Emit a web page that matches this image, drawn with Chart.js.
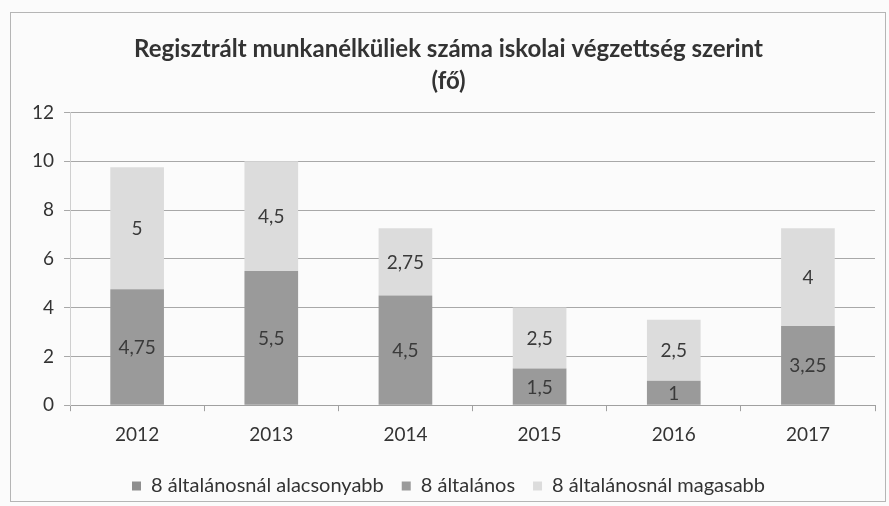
<!DOCTYPE html>
<html>
<head>
<meta charset="utf-8">
<script src="https://cdn.jsdelivr.net/npm/chart.js@4"></script>
<style>
  html, body { margin: 0; padding: 0; background: #fbfbfb; }
  #keret { position: absolute; left: 10px; top: 12px; width: 874px; height: 488px; border: 1px solid #b5b5b5; }
  #tabla { position: absolute; left: 0; top: 0; }
</style>
</head>
<body>
<div id="keret"></div>
<canvas id="tabla" width="889" height="506"></canvas>
<script>
'use strict'

const evek = ['2012', '2013', '2014', '2015', '2016', '2017']
const alacsonyabb = [0, 0, 0, 0, 0, 0]
const altalanos = [4.75, 5.5, 4.5, 1.5, 1, 3.25]
const magasabb = [5, 4.5, 2.75, 2.5, 2.5, 4]
const yTicks = [0, 2, 4, 6, 8, 10, 12]

const betu = 'Lato, "Open Sans", sans-serif'

// ertekek kiirasa a szeletek kozepere (nincs datalabels plugin)
const cimkek = {
  id: 'cimkek',
  afterDatasetsDraw(chart) {
    const ctx = chart.ctx
    ctx.save()
    ctx.font = '19px ' + betu
    ctx.fillStyle = '#3a3a3a'
    ctx.textAlign = 'center'
    ctx.textBaseline = 'middle'
    chart.data.datasets.forEach((ds, i) => {
      chart.getDatasetMeta(i).data.forEach((bar, j) => {
        const v = ds.data[j]
        if (!v) return
        const p = bar.getProps(['x', 'y', 'base'], true)
        ctx.fillText(String(v).replace('.', ','), p.x, (p.y + p.base) / 2 + 1)
      })
    })
    ctx.restore()
  }
}

const data = {
  labels: evek,
  datasets: [
    { label: '8 általánosnál alacsonyabb', data: alacsonyabb, backgroundColor: '#8e8e8e' },
    { label: '8 általános', data: altalanos, backgroundColor: '#9a9a9a' },
    { label: '8 általánosnál magasabb', data: magasabb, backgroundColor: '#dcdcdc' }
  ]
}

const config = {
  type: 'bar',
  data: data,
  options: {
    responsive: false,
    animation: false,
    barPercentage: 0.4,
    categoryPercentage: 1,
    layout: { padding: { left: 22, right: 14, top: 16, bottom: 0 } },
    plugins: {
      title: {
        display: true,
        text: ['Regisztrált munkanélküliek száma iskolai végzettség szerint', '(fő)'],
        color: '#333',
        font: { family: betu, size: 24, weight: 'bold', lineHeight: 1.3 },
        padding: { top: 18, bottom: 16 }
      },
      legend: {
        position: 'bottom',
        labels: {
          color: '#333',
          font: { family: betu, size: 20 },
          boxWidth: 9,
          boxHeight: 9,
          padding: 18
        }
      },
      tooltip: { enabled: false }
    },
    scales: {
      x: {
        stacked: true,
        grid: { display: true, drawOnChartArea: false, tickLength: 6, color: '#a0a0a0', offset: true },
        border: { color: '#a0a0a0' },
        ticks: { color: '#333', font: { family: betu, size: 19 }, padding: 12 }
      },
      y: {
        stacked: true,
        min: 0,
        max: 12,
        afterBuildTicks: ax => { ax.ticks = yTicks.map(v => ({ value: v })) },
        grid: { color: '#a8a8a8', tickLength: 6 },
        border: { color: '#cfcfcf' },
        ticks: { color: '#333', font: { family: betu, size: 19 }, padding: 10 }
      }
    }
  },
  plugins: [cimkek]
}

let oszlopok = new Chart(document.querySelector('#tabla'), config)
</script>
</body>
</html>
